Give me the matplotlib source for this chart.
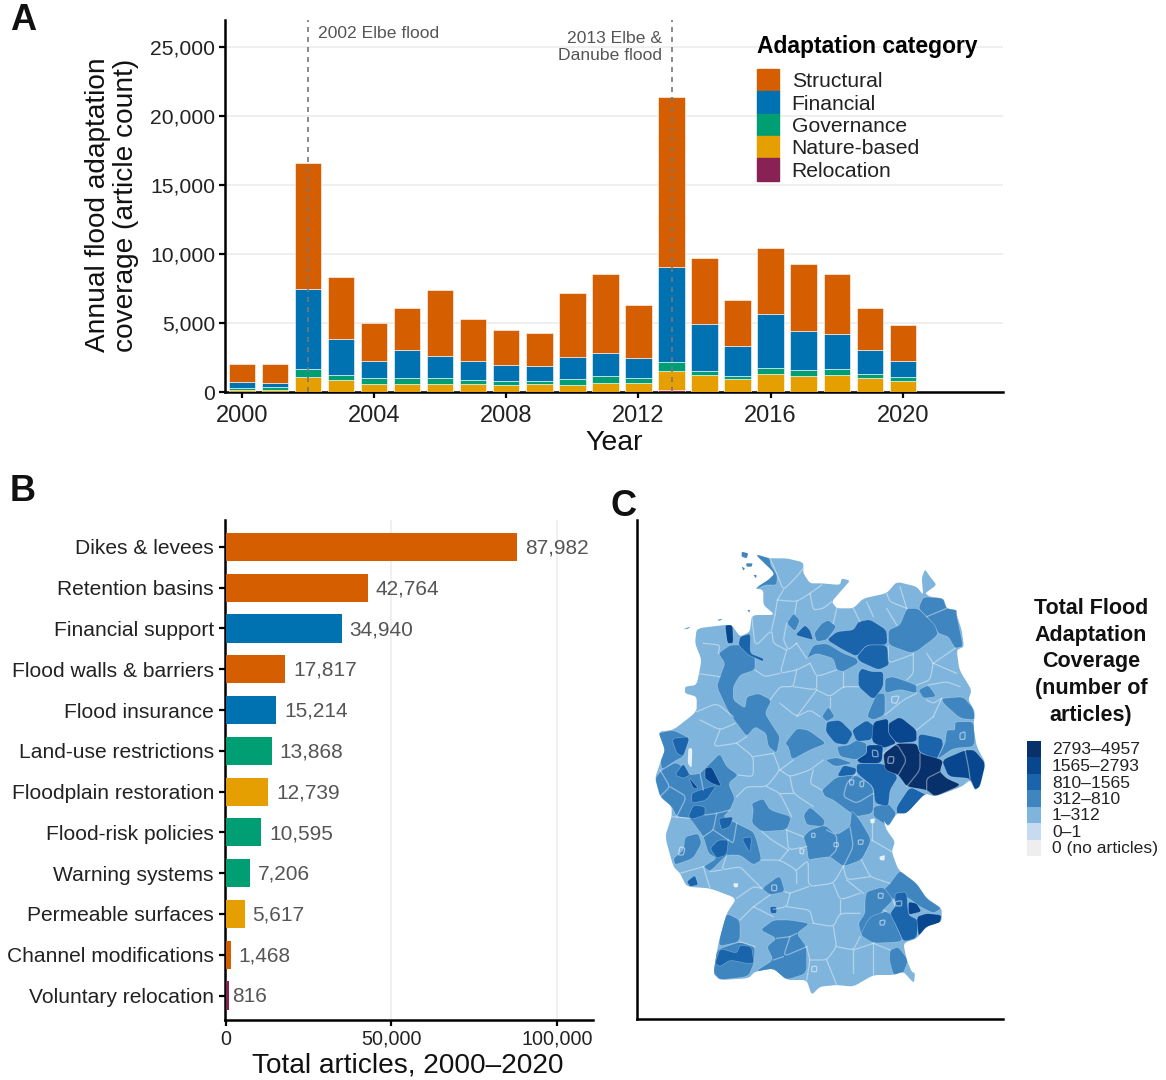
import matplotlib
matplotlib.use("Agg")
import matplotlib.pyplot as plt
import numpy as np
from matplotlib.patches import Polygon, Patch

plt.rcParams['font.family'] = ['Liberation Sans', 'DejaVu Sans']

W, H = 1166, 1080
# ---------- data ----------
years = list(range(2000, 2021))
structural = [1310, 1350, 9140, 4470, 2750, 3070, 4840, 3020, 2510, 2420, 4640, 5740, 3810, 12340, 4830, 3280, 4720, 4860, 4370, 3040, 2560]
financial = [430, 340, 5770, 2630, 1260, 2010, 1540, 1360, 1190, 1080, 1540, 1670, 1480, 6910, 3400, 2180, 3940, 2820, 2490, 1690, 1160]
governance = [120, 170, 600, 320, 450, 410, 440, 290, 240, 200, 440, 480, 330, 650, 290, 210, 460, 480, 430, 290, 290]
nature_based = [150, 150, 1070, 870, 540, 580, 580, 580, 510, 580, 510, 660, 660, 1330, 1190, 950, 1260, 1120, 1240, 1020, 800]
relocation = [20, 20, 20, 20, 20, 20, 20, 20, 20, 20, 20, 20, 20, 170, 20, 20, 20, 20, 20, 20, 20]
cat_names = ['Structural', 'Financial', 'Governance', 'Nature-based', 'Relocation']
cat_colors = ['#D55E00', '#0072B2', '#009E73', '#E69F00', '#882255']

measures = ['Dikes & levees', 'Retention basins', 'Financial support', 'Flood walls & barriers', 'Flood insurance',
            'Land-use restrictions', 'Floodplain restoration', 'Flood-risk policies', 'Warning systems',
            'Permeable surfaces', 'Channel modifications', 'Voluntary relocation']
measure_totals = [87982, 42764, 34940, 17817, 15214, 13868, 12739, 10595, 7206, 5617, 1468, 816]
measure_cats = [0, 0, 1, 0, 1, 2, 3, 2, 2, 3, 0, 4]

map_classes = ['2793–4957', '1565–2793', '810–1565', '312–810', '1–312', '0–1', '0 (no articles)']
map_colors = ['#08306B', '#08478F', '#1A64AC', '#3F86C1', '#7FB5DC', '#C6DBEF', '#EEEEEE']

# map geometry, in map units
germany = [(345,72),(390,85),(440,85),(490,97),(490,130),(510,160),(545,160),(600,165),(605,145),(630,152),(610,175),(575,215),(590,235),(640,235),(670,205),(740,190),(770,155),(830,170),(850,195),(845,145),(855,118),(870,140),(890,165),(855,190),(870,200),(910,205),(920,235),(950,240),(950,255),(965,300),(972,350),(950,360),(958,420),(995,480),(985,510),(1005,545),(1000,590),(1010,650),(1037,700),(1020,770),(1005,780),(990,750),(965,770),(885,800),(855,790),(800,850),(770,850),(745,890),(730,870),(740,900),(765,935),(755,965),(775,1020),(830,1060),(860,1105),(905,1135),(905,1175),(860,1190),(830,1225),(790,1240),(800,1290),(815,1325),(825,1330),(822,1360),(790,1325),(760,1335),(700,1335),(640,1370),(590,1365),(540,1370),(515,1395),(500,1350),(440,1350),(400,1315),(345,1325),(325,1345),(240,1350),(220,1330),(235,1240),(260,1150),(290,1105),(210,1075),(140,1070),(120,1030),(100,1010),(75,920),(95,860),(95,830),(60,800),(45,745),(60,700),(75,660),(55,605),(100,600),(170,545),(170,500),(135,490),(135,470),(170,465),(185,390),(165,340),(170,295),(255,285),(275,285),(300,320),(330,305),(335,255),(405,255),(370,225),(370,180),(345,175),(385,150),(405,130)]
regions_mid = [
 [(345,72),(390,85),(392,105),(412,135),(410,165),(375,165),(345,180),(375,148),(368,120)],
 [(850,200),(910,205),(920,235),(950,240),(950,255),(970,350),(945,355),(925,320),(895,310),(885,290),(860,260),(835,235)],
 [(800,235),(835,235),(885,285),(895,315),(820,372),(745,345),(745,300),(780,285)],
 [(522,310),(545,280),(565,270),(590,290),(560,330),(530,335)],
 [(440,280),(460,250),(480,270),(465,305)],
 [(500,385),(520,345),(560,340),(610,370),(650,385),(655,400),(610,425),(590,420),(580,385),(530,370)],
 [(735,445),(760,440),(830,465),(830,490),(780,478),(735,490)],
 [(835,480),(865,465),(890,500),(850,505)],
 [(905,505),(970,500),(1000,535),(1005,570),(960,565),(910,520)],
 [(680,560),(710,490),(735,490),(735,555),(700,570)],
 [(945,575),(1003,575),(1005,650),(940,655),(890,690),(915,640),(920,600),(945,600)],
 [(545,560),(565,530),(585,560),(560,575)],
 [(590,650),(625,645),(650,630),(680,640),(680,670),(650,690),(600,680)],
 [(555,690),(590,682),(640,700),(585,710)],
 [(700,830),(745,820),(770,850),(745,890),(700,860)],
 [(545,780),(590,740),(650,735),(700,770),(700,850),(650,860),(620,840),(580,810),(555,800)],
 [(490,855),(510,830),(555,870),(550,890),(500,885)],
 [(490,920),(510,900),(555,885),(590,915),(630,890),(635,840),(660,870),(695,930),(665,990),(610,1010),(570,980),(530,985),(505,990),(500,950)],
 [(750,1060),(780,1020),(830,1060),(860,1105),(905,1135),(880,1150),(840,1130),(800,1100),(760,1110),(730,1080)],
 [(680,1085),(730,1070),(760,1110),(730,1140),(700,1180),(665,1220),(655,1180),(675,1150),(675,1110)],
 [(690,1160),(750,1140),(770,1190),(790,1235),(700,1240),(660,1215)],
 [(750,1260),(775,1250),(805,1290),(790,1330),(760,1335),(748,1290)],
 [(260,1150),(300,1170),(300,1235),(235,1250),(245,1190)],
 [(228,1260),(300,1235),(345,1250),(342,1300),(325,1340),(240,1350),(220,1330)],
 [(345,1325),(400,1290),(380,1250),(410,1225),(360,1200),(400,1170),(450,1170),(510,1180),(470,1210),(500,1250),(500,1330),(440,1350),(400,1320)],
 [(365,1075),(420,1035),(435,1085),(390,1095)],
 [(50,610),(100,600),(150,625),(130,680),(110,690),(65,720),(60,680),(75,660)],
 [(45,745),(65,720),(110,695),(150,735),(180,730),(210,700),(240,670),(260,710),(295,735),(265,760),(285,805),(270,840),(250,860),(290,880),(340,905),(350,930),(365,990),(340,1005),(300,975),(260,975),(210,1025),(190,1010),(230,985),(205,970),(190,920),(150,865),(110,860),(95,830),(60,800)],
 [(135,920),(175,910),(185,940),(160,985),(105,1005),(100,985),(130,960)],
 [(335,820),(370,805),(390,840),(455,860),(440,900),(365,905),(335,880),(340,840)],
 [(235,370),(270,345),(305,345),(345,380),(345,420),(300,435),(280,470),(280,510),(315,535),(320,500),(355,490),(395,510),(375,550),(400,590),(420,620),(410,670),(385,650),(378,610),(345,590),(320,620),(290,580),(265,545),(230,470),(240,440),(255,400)],
 [(435,640),(470,595),(505,600),(560,640),(510,660),(455,690),(445,650)],
]
regions_dark = [
 [(560,330),(590,305),(640,300),(655,275),(690,268),(740,300),(742,345),(680,345),(650,380),(610,360)],
 [(680,345),(742,345),(748,405),(715,420),(660,395),(650,380)],
 [(655,430),(665,415),(695,425),(730,425),(730,470),(700,510),(655,470)],
 [(465,315),(495,285),(510,300),(520,330),(500,325)],
 [(835,610),(905,625),(910,645),(890,690),(835,665)],
 [(635,600),(680,570),(705,590),(695,630),(650,635)],
 [(560,575),(600,570),(640,610),(620,645),(585,640),(557,605)],
 [(590,740),(610,705),(650,715),(645,735)],
 [(650,700),(730,700),(775,740),(750,780),(745,830),(705,820),(700,770),(650,730)],
 [(770,830),(810,770),(860,795),(885,800),(800,855),(770,850)],
 [(765,1090),(800,1085),(805,1155),(835,1170),(830,1225),(790,1235),(770,1190),(750,1150),(765,1130)],
 [(225,1300),(240,1255),(290,1270),(300,1245),(335,1250),(342,1300),(320,1300),(270,1290),(240,1310)],
 [(95,625),(150,620),(130,680),(110,670)],
 [(105,735),(130,700),(150,735),(130,745)],
 [(180,780),(230,765),(200,810),(155,820),(155,790)],
 [(145,860),(160,825),(195,830),(195,855),(155,868)],
 [(235,865),(280,860),(270,890),(245,900)],
 [(210,955),(235,930),(265,930),(260,975),(230,985)],
 [(305,925),(335,920),(330,970)],
 [(140,1055),(165,1035),(175,1065),(150,1070)],
 [(300,320),(332,310),(330,370),(370,385),(370,395),(325,375),(295,345)],
 [(390,1130),(410,1130),(410,1150),(392,1150)],
]
regions_vdark = [
 [(745,580),(780,560),(830,600),(830,635),(770,640),(745,610)],
 [(700,575),(745,565),(745,610),(770,640),(730,655),(695,635)],
 [(650,690),(680,670),(680,645),(730,645),(725,700),(660,700)],
 [(905,690),(975,660),(1003,660),(1037,700),(1020,770),(1005,780),(990,745),(925,740)],
 [(805,1115),(830,1120),(845,1145),(805,1155)],
 [(830,1160),(860,1150),(905,1155),(900,1180),(860,1190),(835,1220)],
 [(145,740),(175,775),(160,775)],
 [(195,715),(215,710),(245,770),(215,760),(195,745)],
 [(255,285),(278,285),(280,340),(262,340)],
]
regions_top = [
 [(730,670),(770,640),(830,640),(840,670),(910,690),(900,725),(920,745),(965,765),(885,800),(860,780),(800,770),(775,735),(735,720)],
]
islands = [[(305,65),(325,70),(320,85),(305,80)], [(318,100),(338,100),(335,110),(320,110)], [(340,135),(350,135),(348,145)],
           [(305,110),(315,115),(310,122)], [(230,270),(248,266),(240,272)], [(130,298),(150,290),(145,296)], [(322,240),(330,240),(328,248)]]
pale_spots = [[(145,655),(157,655),(155,715),(143,700)], [(690,868),(705,865),(703,880),(692,880)], [(718,980),(735,975),(733,992),(720,990)],
              [(280,1060),(295,1060),(293,1072),(282,1072)]]
district_lines = [
 [(390,85),(412,135),(430,180),(470,140),(490,115)], [(412,210),(470,215),(510,190),(545,165)], [(430,180),(412,210),(405,255)],
 [(470,215),(465,250)], [(510,190),(520,240),(550,235),(575,215)], [(590,235),(580,280)], [(640,235),(660,275)], [(680,215),(700,260)],
 [(740,190),(750,215),(800,235)], [(770,285),(740,235)], [(745,350),(745,400),(800,380),(820,372)], [(820,372),(820,430),(800,450)],
 [(860,370),(880,400),(870,450),(830,465)], [(945,355),(880,400)], [(880,400),(950,430)], [(865,465),(920,455),(960,470)],
 [(335,255),(345,350),(395,300),(400,340),(440,360)], [(405,255),(395,300)], [(440,280),(430,330),(445,360),(470,340)], [(470,340),(500,385)],
 [(440,360),(420,430),(470,420),(510,400)], [(470,420),(460,470),(420,470),(390,510)], [(420,430),(375,440),(345,420)],
 [(510,400),(530,440),(590,420)], [(530,440),(530,480),(460,470)], [(530,480),(570,500),(610,470),(655,470)], [(610,425),(610,470)],
 [(570,500),(570,530)], [(470,560),(530,480)], [(420,520),(470,560),(510,540),(540,560)], [(170,430),(240,440)], [(190,340),(240,345),(235,370)],
 [(170,545),(230,520),(280,560)], [(180,570),(240,600),(285,580)], [(240,600),(220,650),(290,640),(320,620)], [(290,640),(340,680),(340,740),(295,735)],
 [(340,680),(400,670)], [(400,670),(420,720),(380,770),(320,770),(290,800)], [(420,720),(460,690)], [(420,720),(450,740),(510,720),(550,690)],
 [(380,770),(420,790),(455,860)], [(450,740),(460,790),(520,830)], [(520,720),(510,760),(545,780)], [(460,790),(420,790)], [(440,900),(490,920)],
 [(440,900),(445,960),(500,950)], [(445,960),(395,930),(365,905)], [(365,990),(420,990),(470,1020),(470,1060)], [(420,990),(445,960)],
 [(470,1020),(505,990),(505,1070),(580,1060),(610,1010)], [(580,1060),(600,1110),(660,1090)], [(505,1070),(450,1090),(435,1085)],
 [(290,1105),(340,1070),(365,1075)], [(260,975),(245,1020),(300,1010),(330,1040),(365,1075)], [(210,1025),(245,1020)], [(190,1010),(210,1075)],
 [(300,1170),(340,1130),(390,1095)], [(340,1130),(400,1160)], [(450,1090),(440,1130),(400,1138)], [(440,1130),(510,1140),(520,1180)],
 [(520,1180),(580,1190),(600,1150),(660,1150)], [(600,1110),(600,1150)], [(580,1190),(590,1250),(560,1290),(510,1290)], [(500,1250),(510,1290),(500,1350)],
 [(590,1250),(640,1260),(660,1220)], [(640,1260),(640,1330)], [(560,1290),(590,1365)], [(700,1240),(700,1335)], [(640,1260),(700,1240)], [(750,1260),(700,1240)],
 [(665,990),(690,1040),(750,1060)], [(690,1040),(620,1050),(610,1010)], [(620,1050),(670,1090)], [(695,930),(755,965)], [(695,930),(695,870)],
 [(95,860),(150,865)], [(120,1030),(190,1010)],
 [(730,670),(770,640),(800,690),(775,735)], [(840,670),(840,720),(800,770)], [(900,725),(860,745),(860,780)], [(975,660),(985,710),(990,745)],
 [(650,730),(620,760),(610,800),(650,820),(700,790)], [(560,900),(590,915),(590,960),(570,980)], [(630,890),(640,950),(610,1010)],
 [(760,1110),(765,1130)], [(730,1140),(750,1150)], [(60,720),(90,770),(60,800)], [(90,770),(140,800),(110,860)], [(180,730),(190,780)],
 [(270,840),(230,850),(195,855)], [(230,850),(220,900),(190,920)], [(220,900),(265,930)], [(290,880),(280,940),(265,930)],
 [(300,1235),(345,1250)], [(410,1225),(450,1220),(470,1210)], [(450,1220),(430,1280),(500,1250)], [(430,1280),(400,1290)],
 [(800,235),(780,170)], [(860,260),(920,235)], [(905,505),(880,520),(860,510)], [(735,555),(790,510),(830,490)], [(830,600),(880,560)], [(880,560),(905,505)],
]
city_loops = [[(697,660),(712,662),(715,680),(698,680)], [(745,680),(762,680),(760,700),(743,700)], [(628,750),(642,750),(640,765),(630,765)],
              [(660,755),(672,752),(670,770),(660,770)], [(515,910),(525,910),(525,922),(515,922)], [(582,938),(595,938),(595,950),(582,950)],
              [(655,930),(670,930),(668,943),(655,943)], [(120,950),(135,955),(130,975),(115,975)], [(395,1065),(410,1065),(410,1082),(395,1082)],
              [(715,1090),(730,1090),(728,1105),(715,1105)], [(765,1115),(785,1112),(785,1128),(768,1128)], [(720,1172),(735,1170),(733,1185),(720,1185)],
              [(960,610),(975,605),(975,628),(960,628)], [(755,500),(778,498),(770,520),(755,518)], [(480,955),(492,958),(490,972),(480,970)], [(515,1310),(530,1308),(530,1325),(515,1325)]]


def rounded(pts, passes=2, closed=True, cut=0.14):
    """Light corner-cutting so traced outlines look less faceted without shrinking them much."""
    p = np.array(pts, float)
    for _ in range(passes):
        if closed:
            q = np.roll(p, -1, axis=0)
            p = np.column_stack([(1 - cut) * p + cut * q, cut * p + (1 - cut) * q]).reshape(-1, 2)
        else:
            a, b = p[:-1], p[1:]
            mid = np.column_stack([(1 - cut) * a + cut * b, cut * a + (1 - cut) * b]).reshape(-1, 2)
            p = np.vstack([p[0], mid, p[-1]])
    return p


def px_axes(l, t, r, b):
    return fig.add_axes([l / W, 1 - b / H, (r - l) / W, (b - t) / H])


def ptxt(x, y, s, **kw):
    kw.setdefault('ha', 'center')
    kw.setdefault('va', 'center')
    return fig.text(x / W, 1 - y / H, s, **kw)


fig = plt.figure(figsize=(W / 100, H / 100), dpi=100, facecolor='white')

# ---------- Panel A ----------
axA = px_axes(225, 20, 1003, 392)
axA.set_xlim(1999.49, 2023.03)
axA.set_ylim(0, 372 / 13.8 * 1000)
bottom = np.zeros(len(years))
series = [relocation, nature_based, governance, financial, structural]
for vals, c, n in zip(series, cat_colors[::-1], cat_names[::-1]):
    v = np.array(vals, float)
    axA.bar(years, v, bottom=bottom, width=0.8, color=c, edgecolor='#ffffff', linewidth=0.4, zorder=3, label=n)
    bottom += v
axA.yaxis.grid(True, color='#EEEEEE', lw=1.3, zorder=0)
axA.set_axisbelow(True)
for yr in (2002, 2013):
    axA.axvline(yr, color='#777777', ls=(0, (3, 3)), lw=1.2, zorder=5)
axA.set_xticks(range(2000, 2021, 4))
axA.set_yticks(range(0, 25001, 5000))
axA.yaxis.set_major_formatter(matplotlib.ticker.FuncFormatter(lambda v, p: f'{int(v):,}'))
axA.tick_params(axis='y', labelsize=15.2, length=4, width=1.6, pad=3, labelcolor='#222222')
axA.tick_params(axis='x', labelsize=17, length=4, width=1.6, pad=5, labelcolor='#222222')
for s in ('top', 'right'):
    axA.spines[s].set_visible(False)
for s in ('left', 'bottom'):
    axA.spines[s].set_linewidth(1.8)
ptxt(318, 33, '2002 Elbe flood', ha='left', fontsize=12.6, color='#555555')
ptxt(662, 47, '2013 Elbe &\nDanube flood', ha='right', fontsize=12.6, color='#555555', linespacing=1.2)
ptxt(112, 205, 'Annual flood adaptation\ncoverage (article count)', rotation=90, fontsize=20.2, color='#111111', linespacing=1.12)
ptxt(614, 443, 'Year', fontsize=20.5, color='#111111')
leg = axA.legend([Patch(color=c) for c in cat_colors], cat_names, loc='upper left',
                 bbox_to_anchor=((757 - 225) / 778, (392 - 35) / 372), frameon=False,
                 title='Adaptation category', alignment='left', fontsize=15.2,
                 handlelength=1.04, handleheight=1.25, labelspacing=0, handletextpad=0.6,
                 borderpad=0, borderaxespad=0, title_fontproperties={'weight': 'bold', 'size': 16.5})
leg._legend_box.sep = 8
for t in leg.get_texts():
    t.set_color('#222222')

# ---------- Panel B ----------
axB = px_axes(225, 520, 593, 1020)
axB.set_xlim(-302, 110900)
ypos = np.arange(len(measures))
axB.set_ylim(len(measures) - 1 + 0.60, -0.66)
axB.barh(ypos, measure_totals, height=0.69, color=[cat_colors[i] for i in measure_cats], zorder=3)
for y, v in zip(ypos, measure_totals):
    axB.text(v + (2400 if v > 1000 else 1000), y + 0.03, f'{v:,}', va='center', ha='left', fontsize=15, color='#555555', zorder=4)
axB.set_yticks(ypos)
axB.set_yticklabels(measures)
axB.set_xticks([0, 50000, 100000])
axB.xaxis.set_major_formatter(matplotlib.ticker.FuncFormatter(lambda v, p: f'{int(v):,}'))
axB.xaxis.grid(True, color='#EEEEEE', lw=1.2, zorder=0)
axB.set_axisbelow(True)
axB.tick_params(axis='y', labelsize=15.1, length=4, width=1.6, pad=4, labelcolor='#222222')
axB.tick_params(axis='x', labelsize=14.2, length=4, width=1.6, pad=3, labelcolor='#222222')
for s in ('top', 'right'):
    axB.spines[s].set_visible(False)
for s in ('left', 'bottom'):
    axB.spines[s].set_linewidth(1.8)
ptxt(408, 1065, 'Total articles, 2000–2020', fontsize=20.2, color='#111111')

# ---------- Panel C ----------
axC = px_axes(637, 520, 1003, 1019)
axC.set_xlim(-9, 1089)
axC.set_ylim(1467, -30)
axC.set_xticks([])
axC.set_yticks([])
for s in ('top', 'right'):
    axC.spines[s].set_visible(False)
for s in ('left', 'bottom'):
    axC.spines[s].set_linewidth(1.8)
base = Polygon(rounded(germany, 2), closed=True, facecolor=map_colors[4], edgecolor='none', zorder=1)
axC.add_patch(base)
for group, col, z in ((regions_mid, map_colors[3], 2), (regions_dark, map_colors[2], 3), (regions_vdark, map_colors[1], 4), (regions_top, map_colors[0], 5)):
    for pts in group:
        p = Polygon(rounded(pts), closed=True, facecolor=col, edgecolor=(1, 1, 1, 0.3), linewidth=0.5, zorder=z)
        axC.add_patch(p)
        p.set_clip_path(base)
for pts in islands:
    axC.add_patch(Polygon(rounded(pts), closed=True, facecolor=map_colors[3], edgecolor='none', zorder=2))
for pts in pale_spots:
    axC.add_patch(Polygon(rounded(pts), closed=True, facecolor='#E8F1F8', edgecolor='none', zorder=7))
for ln in district_lines:
    c = rounded(ln, 2, closed=False)
    l, = axC.plot(c[:, 0], c[:, 1], color='#FFFFFF', alpha=0.4, lw=0.9, zorder=6, solid_joinstyle='round')
    l.set_clip_path(base)
for pts in city_loops:
    axC.add_patch(Polygon(rounded(pts), closed=True, facecolor='none', edgecolor=(1, 1, 1, 0.5), linewidth=0.9, zorder=6))

title_lines = ['Total Flood', 'Adaptation', 'Coverage', '(number of', 'articles)']
for i, t in enumerate(title_lines):
    ptxt(1091, 609 + i * 26.5, t, fontsize=15.5, fontweight='bold', color='#111111')
for i, (c, lab) in enumerate(zip(map_colors, map_classes)):
    y = 749 + i * 16.5
    fig.patches.append(plt.Rectangle((1027 / W, 1 - (y + 8.25) / H), 14 / W, 16.5 / H, transform=fig.transFigure, facecolor=c, edgecolor='none', figure=fig))
    ptxt(1052, y + 1, lab, ha='left', fontsize=12.6, color='#222222')

# ---------- Panel letters ----------
ptxt(23, 21, 'A', fontsize=26, fontweight='bold', color='#111111')
ptxt(23, 492, 'B', fontsize=26, fontweight='bold', color='#111111')
ptxt(623, 506, 'C', fontsize=26, fontweight='bold', color='#111111')

fig.savefig('out.png', dpi=100)
